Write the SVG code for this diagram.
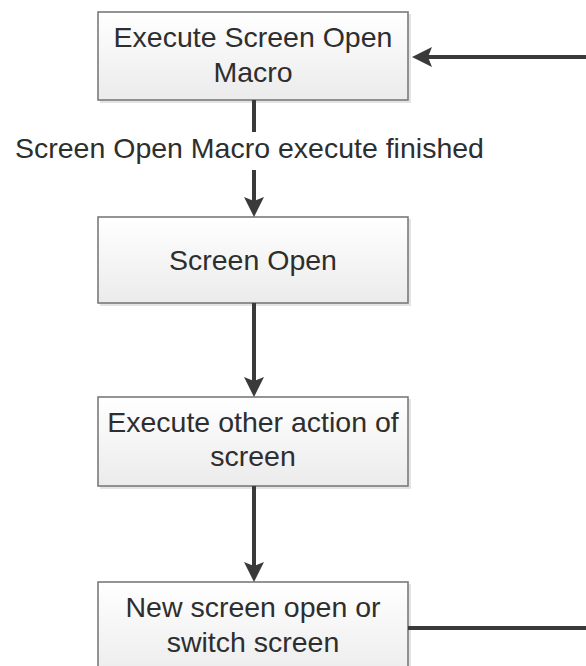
<svg xmlns="http://www.w3.org/2000/svg" width="586" height="666" viewBox="0 0 586 666">
  <defs>
    <linearGradient id="boxFill" x1="0" y1="0" x2="0" y2="1">
      <stop offset="0" stop-color="#ffffff"/>
      <stop offset="1" stop-color="#ebebeb"/>
    </linearGradient>
    <marker id="arrow" viewBox="0 0 20 20" markerWidth="20" markerHeight="20" markerUnits="userSpaceOnUse" refX="10" refY="10" orient="auto">
      <path d="M0,0 L20,10 L0,20 L4,10 z" fill="#3a3a3a"/>
    </marker>
  </defs>
  <style>
    .box { fill: url(#boxFill); stroke: #7a7a7a; stroke-width: 1.6; }
    .shadow { fill: #e4e4e4; }
    .txt { font-family: "Liberation Sans", Arial, sans-serif; font-size: 28.5px; fill: #2e2e2e; text-anchor: middle; }
    .lbl { font-family: "Liberation Sans", Arial, sans-serif; font-size: 28.5px; fill: #2e2e2e; }
    .conn { fill: none; stroke: #3a3a3a; stroke-width: 4; }
  </style>
  <rect width="586" height="666" fill="#ffffff"/>

  <g id="node-execute-macro">
    <rect class="shadow" x="100" y="14" width="311" height="89"/>
    <rect class="box" x="98" y="12" width="310" height="88"/>
    <text class="txt" x="253" y="47">Execute Screen Open</text>
    <text class="txt" x="253" y="82">Macro</text>
  </g>

  <g id="node-screen-open">
    <rect class="shadow" x="100" y="219" width="311" height="87"/>
    <rect class="box" x="98" y="217" width="310" height="86"/>
    <text class="txt" x="253" y="270">Screen Open</text>
  </g>

  <g id="node-other-action">
    <rect class="shadow" x="100" y="399" width="311" height="90"/>
    <rect class="box" x="98" y="397" width="310" height="89"/>
    <text class="txt" x="253" y="432">Execute other action of</text>
    <text class="txt" x="253" y="466">screen</text>
  </g>

  <g id="node-new-screen">
    <rect class="shadow" x="100" y="584" width="311" height="100"/>
    <rect class="box" x="98" y="582" width="310" height="100"/>
    <text class="txt" x="253" y="617">New screen open or</text>
    <text class="txt" x="253" y="652">switch screen</text>
  </g>

  <g id="connectors">
    <line class="conn" x1="254" y1="100" x2="254" y2="132"/>
    <line class="conn" x1="254" y1="170" x2="254" y2="207" marker-end="url(#arrow)"/>
    <line class="conn" x1="254" y1="303" x2="254" y2="387" marker-end="url(#arrow)"/>
    <line class="conn" x1="254" y1="486" x2="254" y2="572" marker-end="url(#arrow)"/>
    <line class="conn" x1="408" y1="628" x2="586" y2="628"/>
    <line class="conn" x1="586" y1="57" x2="422" y2="57" marker-end="url(#arrow)"/>
    <text class="lbl" x="15" y="158">Screen Open Macro execute finished</text>
  </g>
</svg>
